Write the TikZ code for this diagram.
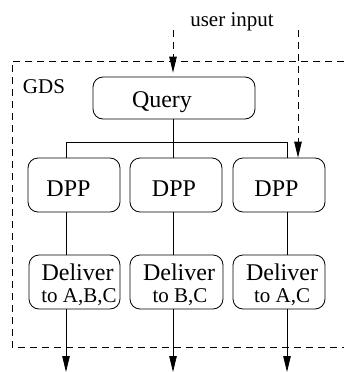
\documentclass[tikz,border=0pt]{standalone}
\usepackage{fontspec}
\setmainfont{Liberation Serif}
\usetikzlibrary{arrows.meta}
\begin{document}
\begin{tikzpicture}[x=1pt,y=-1pt, line width=0.8pt,
  box/.style={draw, rounded corners=10pt, inner sep=0pt},
  bigtxt/.style={font=\fontsize{24}{24}\selectfont, anchor=base, inner sep=0pt},
  smalltxt/.style={font=\fontsize{21}{21}\selectfont, anchor=base, inner sep=0pt},
  tip/.style={-{Triangle[length=16pt,width=7.5pt]}},
  dsh/.style={dash pattern=on 7pt off 5pt}]
\useasboundingbox (0,0) rectangle (344,372);
% GDS frame (open to the right)
\draw[dsh] (344,61) -- (12,61) -- (12,347) -- (344,347);
\node[smalltxt] (gds) at (44,93) {GDS};
\node[smalltxt] (ui) at (232,26) {user input};
% Query
\node[box, minimum width=162pt, minimum height=42pt] (q) at (174,98) {};
\node[bigtxt] (qt) at (162,107) {Query};
% DPP boxes
\node[box, minimum width=92pt, minimum height=54pt] (p1) at (74,185) {};
\node[box, minimum width=92pt, minimum height=54pt] (p2) at (176,185) {};
\node[box, minimum width=92pt, minimum height=54pt] (p3) at (279,185) {};
\node[bigtxt] (pt1) at (68.5,196.5) {DPP};
\node[bigtxt] (pt2) at (174,196.5) {DPP};
\node[bigtxt] (pt3) at (276.5,196.5) {DPP};
% Deliver boxes
\node[box, minimum width=91pt, minimum height=54pt] (d1) at (74.5,282) {};
\node[box, minimum width=93pt, minimum height=54pt] (d2) at (176.5,282) {};
\node[box, minimum width=92pt, minimum height=54pt] (d3) at (279,282) {};
\node[bigtxt] (dt1) at (77.5,280) {Deliver};
\node[bigtxt] (dt2) at (179,280) {Deliver};
\node[bigtxt] (dt3) at (282,280) {Deliver};
\node[smalltxt] (st1) at (79,302) {to A,B,C};
\node[smalltxt] (st2) at (180,302) {to B,C};
\node[smalltxt] (st3) at (282,302) {to A,C};
% distribution bar
\coordinate (c1) at (66,142);
\coordinate (c2) at (173,142);
\coordinate (c3) at (287,142);
\draw (c1) -- (c3);
\draw (c2|-q.south) -- (c2);
\draw (c1) -- (c1|-p1.north);
\draw (c2) -- (c2|-p2.north);
\draw (c3) -- (c3|-p3.north);
\draw (c1|-p1.south) -- (c1|-d1.north);
\draw (c2|-p2.south) -- (c2|-d2.north);
\draw (c3|-p3.south) -- (c3|-d3.north);
% outputs
\coordinate (o1) at (66,372);
\coordinate (o2) at (173,372);
\coordinate (o3) at (287,372);
\draw[tip] (o1|-d1.south) -- (o1);
\draw[tip] (o2|-d2.south) -- (o2);
\draw[tip] (o3|-d3.south) -- (o3);
% user input
\coordinate (u1) at (173,30);
\coordinate (u2) at (298,30);
\draw[dsh, tip, shorten >=4pt] (u1) -- (u1|-q.north);
\draw[dsh, tip] (u2) -- (u2|-p3.north);
\end{tikzpicture}
\end{document}
